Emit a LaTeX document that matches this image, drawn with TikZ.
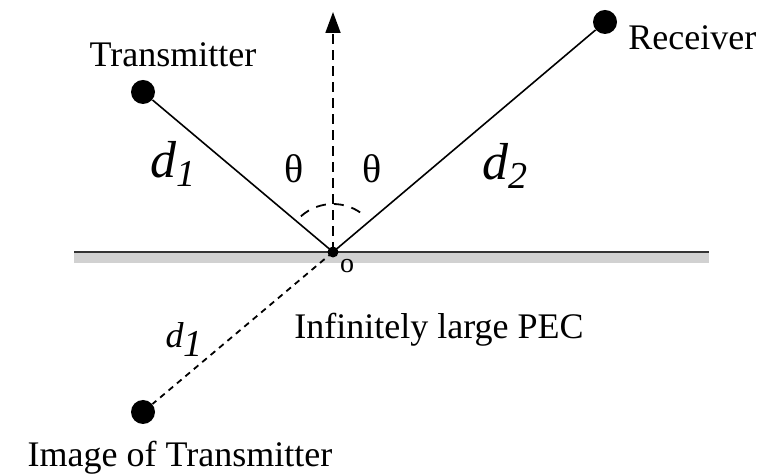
\documentclass[tikz,border=0pt]{standalone}
\usepackage{fontspec}
\setmainfont{Liberation Serif}
\usetikzlibrary{arrows.meta, positioning}

\newcommand{\distlabel}[1]{{\itshape d\raisebox{-4.5pt}{\fontsize{19}{20}\selectfont #1}}}

\begin{document}
\begin{tikzpicture}[
  x=0.5pt, y=-0.5pt,
  antenna/.style={circle, fill=black, inner sep=0pt, minimum size=12pt},
  refpoint/.style={circle, fill=black, inner sep=0pt, minimum size=5.5pt},
  ray/.style={line width=0.8pt},
  guide/.style={line width=0.9pt, dash pattern=on 5pt off 3pt},
  label/.style={font=\fontsize{18}{21}\selectfont, inner sep=0pt},
  dist/.style={font=\fontsize{26}{30}\selectfont, inner sep=0pt}
]
  \useasboundingbox (0,0) rectangle (759,474);
  % PEC ground plane
  \coordinate (gl) at (74,252);
  \coordinate (gr) at (709,252);
  \fill[black!18] (gl) rectangle ([yshift=-11*0.5pt]gr);
  \draw[line width=1.1pt, black!80] (gl) -- (gr);
  % Transmitter, receiver and image
  \node[antenna] (tx) at (143,92) {};
  \node[antenna] (rx) at (605,22) {};
  \node[antenna] (img) at (143,412) {};
  \node[refpoint] (o) at (333,252) {};
  \coordinate (normal) at (333,12);
  % Rays
  \draw[ray] (tx) -- (o.center);
  \draw[ray] (o.center) -- (rx);
  \draw[guide, dash pattern=on 3pt off 2.5pt] (o.center) -- (img);
  \draw[guide, -{Triangle[length=10.5pt, width=7.5pt]}] (o.center) -- (normal);
  % Angle arc
  \draw[guide, dash pattern=on 5pt off 4pt] ([shift={(228:48)}]o.center) arc[start angle=228, end angle=312, radius=48];
  % Labels
  \node[label, anchor=base] (txlabel) at (173,67) {Transmitter};
  \node[label, anchor=base west] (rxlabel) at (628,50) {Receiver};
  \node[label, anchor=base] (pec) at (439,339) {Infinitely large PEC};
  \node[label, anchor=base] (imglabel) at (180,467) {Image of Transmitter};
  \node[label, anchor=base] (olabel) at (347,273) {\fontsize{14}{16}\selectfont o};
  \node[label, anchor=base] (th1) at (294,183) {\fontsize{20}{22}\selectfont θ};
  \node[label, anchor=base] (th2) at (372,183) {\fontsize{20}{22}\selectfont θ};
  \node[dist, anchor=base west] (d1) at (150,178) {\distlabel{1}};
  \node[dist, anchor=base west] (d2) at (482,180) {\distlabel{2}};
  \node[label, anchor=base] (d1img) at (184,348) {\distlabel{1}};
\end{tikzpicture}
\end{document}
